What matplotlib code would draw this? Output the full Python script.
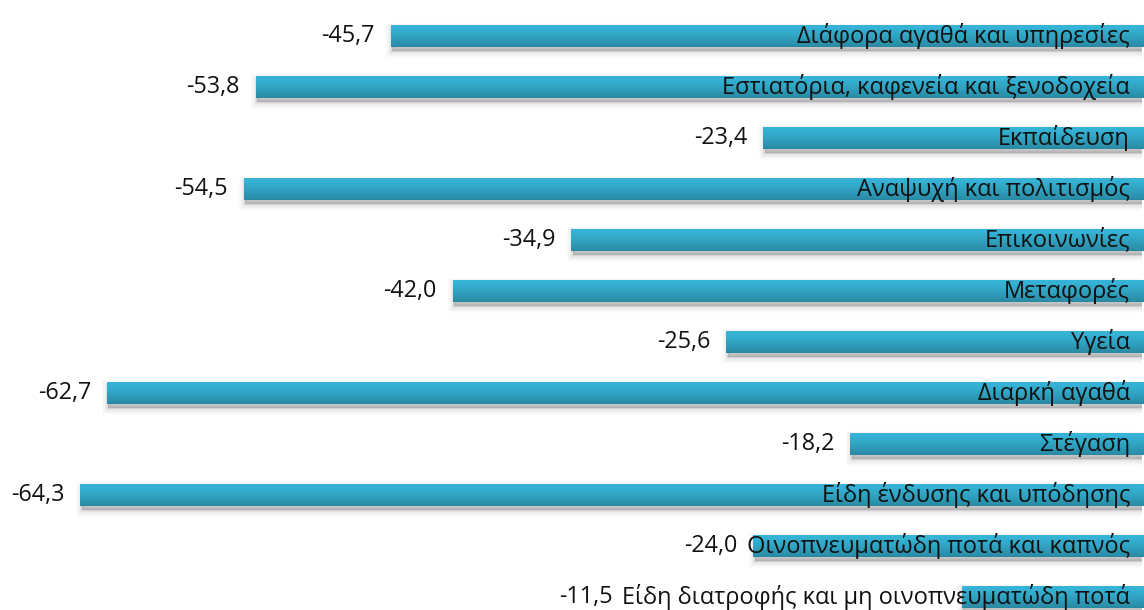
import numpy as np
import matplotlib
matplotlib.use("Agg")
import matplotlib.pyplot as plt
import matplotlib.transforms as mtransforms

plt.rcParams['font.family'] = ['Open Sans', 'DejaVu Sans']

categories = [
    "Διάφορα αγαθά και υπηρεσίες",
    "Εστιατόρια, καφενεία και ξενοδοχεία",
    "Εκπαίδευση",
    "Αναψυχή και πολιτισμός",
    "Επικοινωνίες",
    "Μεταφορές",
    "Υγεία",
    "Διαρκή αγαθά",
    "Στέγαση",
    "Είδη ένδυσης και υπόδησης",
    "Οινοπνευματώδη ποτά και καπνός",
    "Είδη διατροφής και μη οινοπνευματώδη ποτά",
]
values = [-45.7, -53.8, -23.4, -54.5, -34.9, -42.0, -25.6, -62.7, -18.2, -64.3, -24.0, -11.5]

W, H, DPI = 1144, 610, 100
fig = plt.figure(figsize=(W / DPI, H / DPI), dpi=DPI)
ax = fig.add_axes([0, 0, 1142 / W, 1])
ax.set_xlim(-69.10, -0.72)
ax.set_ylim(11.255, -0.706)
ax.axis("off")

y = np.arange(len(categories))
bar_h = 0.43

# soft drop shadow: stacked translucent copies with growing edge width
shadow_tr = mtransforms.offset_copy(ax.transData, fig=fig, x=1.5, y=-4, units="dots")
for lw, a in [(9, 0.025), (7, 0.035), (5, 0.045), (3, 0.06), (1.5, 0.07), (0.1, 0.09)]:
    ax.barh(y, values, height=bar_h, color="#555555", edgecolor="#555555",
            linewidth=lw, alpha=a, transform=shadow_tr, zorder=1)

bars = ax.barh(y, values, height=bar_h, color="none", edgecolor="none", zorder=2)

# vertical gradient fill clipped to each bar
top = np.array([54, 181, 216]) / 255
bot = np.array([41, 137, 162]) / 255
t = np.linspace(0, 1, 64) ** 1.3
grad = (top[None, :] * (1 - t[:, None]) + bot[None, :] * t[:, None])[:, None, :]
for rect in bars.patches:
    x0, y0 = rect.get_x(), rect.get_y()
    w, h = rect.get_width(), rect.get_height()
    im = ax.imshow(grad, extent=(x0, x0 + w, y0 + h, y0), aspect="auto",
                   interpolation="bilinear", zorder=3)
    im.set_clip_path(rect)

fig.canvas.draw()
renderer = fig.canvas.get_renderer()
inv = ax.transData.inverted()

label_fs = 17
value_fs = 16.8
label_right = -1.44
for yi, (cat, v) in enumerate(zip(categories, values)):
    txt = ax.text(label_right, yi, cat, ha="right", va="center",
                  fontsize=label_fs, color="#111111", zorder=4)
    bb = txt.get_window_extent(renderer)
    text_left = inv.transform((bb.x0, bb.y0))[0]
    left_px = ax.transData.transform((min(v, text_left), yi))[0]
    gap = 16 if v <= text_left else 9
    xv = inv.transform((left_px - gap, 0))[0]
    ax.text(xv, yi, f"{v:.1f}".replace(".", ","), ha="right", va="center",
            fontsize=value_fs, color="#111111", zorder=4)

fig.savefig("out.png", dpi=DPI, facecolor="white")
